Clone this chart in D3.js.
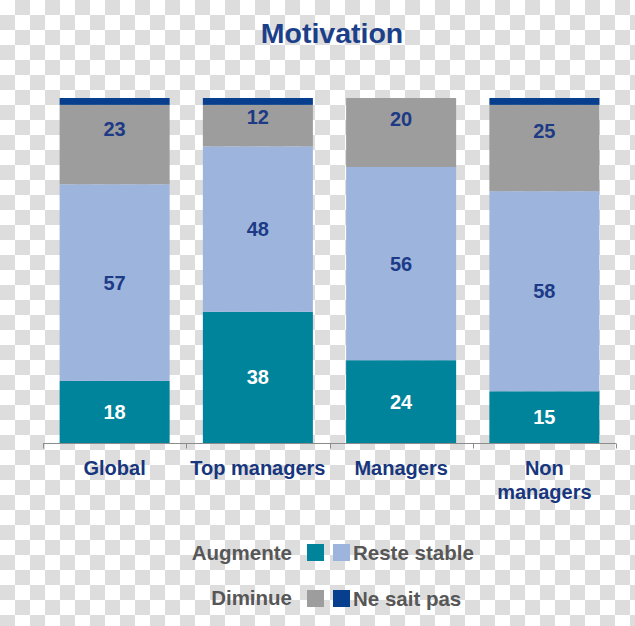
<!DOCTYPE html>
<html>
<head>
<meta charset="utf-8">
<script src="https://cdn.jsdelivr.net/npm/d3@7"></script>
<style>
  html, body { margin: 0; padding: 0; background: #fff; }
  svg { display: block; font-family: "Liberation Sans", Arial, sans-serif; }
</style>
</head>
<body>
<svg id="chart" width="635" height="626"></svg>
<script>
// ---- data ----
const categories = ["Global", "Top managers", "Managers", "Non managers"];
const categoryLines = [["Global"], ["Top managers"], ["Managers"], ["Non", "managers"]];
const seriesNames = ["Augmente", "Reste stable", "Diminue", "Ne sait pas"];
const augmente   = [18, 38, 24, 15];
const resteStable = [57, 48, 56, 58];
const diminue    = [23, 12, 20, 25];
const neSaitPas  = [2, 2, 0, 2];
const title = "Motivation";

const colors = ["#00849b", "#9db5dc", "#9d9d9d", "#073f8e"];
const labelColors = ["#ffffff", "#1c3a86", "#1c3a86", "#ffffff"];

const svg = d3.select("#chart");
const W = 635, H = 626;

// checkerboard background (transparent preview)
const cell = 15;
const cells = [];
d3.range(Math.ceil(H / cell)).forEach(r => d3.range(Math.ceil(W / cell)).forEach(c => {
  if ((r + c) % 2 === 1) cells.push([c, r]);
}));
svg.append("rect").attr("width", W).attr("height", H).attr("fill", "#ffffff");
svg.append("g").selectAll("rect").data(cells).enter().append("rect")
  .attr("x", d => d[0] * cell).attr("y", d => d[1] * cell)
  .attr("width", cell).attr("height", cell).attr("fill", "#dddddd");

// scales
const x = d3.scaleBand().domain(categories).range([43, 616]).paddingInner(0.232).paddingOuter(0.116);
const y = d3.scaleLinear().domain([0, 100]).range([443, 98]);

const table = categories.map((c, i) => ({
  cat: c,
  "Augmente": augmente[i],
  "Reste stable": resteStable[i],
  "Diminue": diminue[i],
  "Ne sait pas": neSaitPas[i]
}));
const stacked = d3.stack().keys(seriesNames)(table);

// title
svg.append("text").attr("x", 332).attr("y", 43).attr("text-anchor", "middle")
  .attr("font-size", 28.5).attr("font-weight", "bold").attr("fill", "#1c3f8a").text(title);

// bars
const g = svg.append("g");
stacked.forEach((layer, li) => {
  g.selectAll(null).data(layer).enter().append("rect")
    .attr("x", d => x(d.data.cat))
    .attr("y", d => y(d[1]))
    .attr("width", x.bandwidth())
    .attr("height", d => y(d[0]) - y(d[1]))
    .attr("fill", colors[li]);
});

// value labels (not for tiny top segment)
stacked.forEach((layer, li) => {
  if (li === 3) return;
  g.selectAll(null).data(layer).enter().append("text")
    .attr("x", d => x(d.data.cat) + x.bandwidth() / 2)
    .attr("y", d => {
      const top = y(d[1]), bot = y(d[0]);
      const frac = li === 2 ? 0.3 : 0.5;
      return top + (bot - top) * frac + 7;
    })
    .attr("text-anchor", "middle")
    .attr("font-size", 20).attr("font-weight", "bold")
    .attr("fill", labelColors[li])
    .text(d => d[1] - d[0]);
});

// axis line + ticks
const step = x.step();
const axisG = svg.append("g").attr("stroke", "#8c8c8c").attr("stroke-width", 1);
axisG.append("line").attr("x1", 43).attr("x2", 616).attr("y1", 443.5).attr("y2", 443.5);
const tickXs = categories.map(c => x(c) - step * x.paddingInner() / 2).concat([616]);
axisG.selectAll(null).data(tickXs).enter().append("line")
  .attr("x1", d => Math.round(d) + 0.5).attr("x2", d => Math.round(d) + 0.5)
  .attr("y1", 443.5).attr("y2", 448.5);

// category labels
categories.forEach((c, i) => {
  const t = svg.append("text").attr("text-anchor", "middle")
    .attr("font-size", 20).attr("font-weight", "bold").attr("fill", "#17367d");
  categoryLines[i].forEach((line, k) => {
    t.append("tspan").attr("x", x(c) + x.bandwidth() / 2).attr("y", 475 + k * 24).text(line);
  });
});

// legend
const legend = [
  { name: seriesNames[0], color: colors[0], side: "left",  sx: 307, sy: 544, ty: 560 },
  { name: seriesNames[1], color: colors[1], side: "right", sx: 333, sy: 544, ty: 560 },
  { name: seriesNames[2], color: colors[2], side: "left",  sx: 307, sy: 590, ty: 605 },
  { name: seriesNames[3], color: colors[3], side: "right", sx: 333, sy: 590, ty: 606 }
];
const lg = svg.append("g");
legend.forEach(l => {
  lg.append("rect").attr("x", l.sx).attr("y", l.sy).attr("width", 17).attr("height", 17).attr("fill", l.color);
  lg.append("text")
    .attr("x", l.side === "left" ? 292 : 353)
    .attr("y", l.ty)
    .attr("text-anchor", l.side === "left" ? "end" : "start")
    .attr("font-size", 20.5).attr("font-weight", "bold").attr("fill", "#575757")
    .text(l.name);
});
</script>
</body>
</html>
